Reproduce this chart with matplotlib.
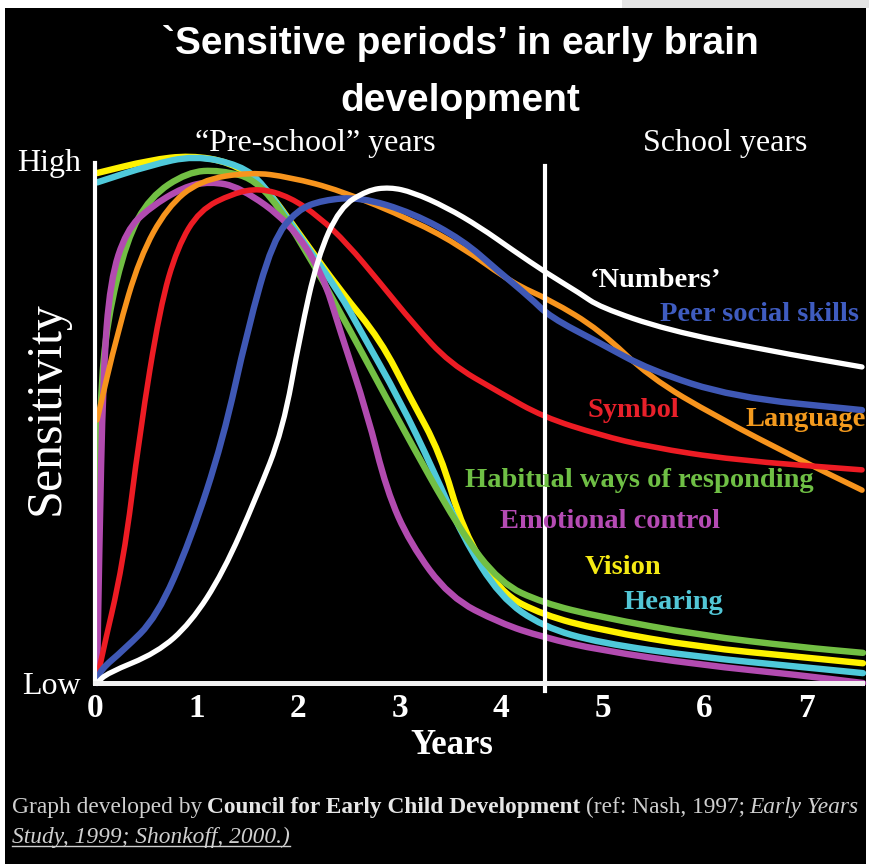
"""
Sensitive periods in early brain development -- recreation.
"""
import matplotlib
matplotlib.use("Agg")
import matplotlib.pyplot as plt
from matplotlib.patches import Rectangle, PathPatch
from matplotlib.path import Path
from matplotlib.lines import Line2D

W, H = 869, 864

# curve data: years, sensitivity (0 = Low, 1 = High)
vision_x = [0.02, 0.54, 0.94, 1.33, 1.65, 2.02, 2.41, 2.81, 3.10, 3.40, 3.62, 3.99, 4.41, 4.97, 5.95, 6.94, 7.56]
vision_y = [0.981, 1.006, 1.015, 1.002, 0.962, 0.862, 0.756, 0.660, 0.550, 0.442, 0.294, 0.173, 0.131, 0.102, 0.069, 0.050, 0.038]

hearing_x = [0.02, 0.54, 0.98, 1.43, 1.65, 2.02, 2.41, 2.61, 3.00, 3.33, 3.62, 3.99, 4.41, 4.97, 5.95, 6.94, 7.56]
hearing_y = [0.963, 0.996, 1.015, 0.996, 0.962, 0.858, 0.750, 0.679, 0.544, 0.410, 0.281, 0.165, 0.108, 0.077, 0.050, 0.031, 0.019]

habit_x = [0.02, 0.05, 0.12, 0.31, 0.54, 0.91, 1.23, 1.62, 2.02, 2.51, 3.00, 3.59, 3.99, 4.41, 4.97, 5.95, 6.94, 7.56]
habit_y = [0.237, 0.544, 0.698, 0.852, 0.935, 0.983, 0.987, 0.967, 0.852, 0.679, 0.500, 0.294, 0.192, 0.154, 0.127, 0.092, 0.069, 0.058]

emotion_x = [0.02, 0.04, 0.08, 0.15, 0.31, 0.54, 0.87, 1.13, 1.43, 1.92, 2.24, 2.41, 2.68, 2.87, 3.10, 3.49, 3.99, 4.41, 4.97, 5.95, 6.94, 7.56]
emotion_y = [0.0, 0.237, 0.596, 0.775, 0.871, 0.915, 0.954, 0.965, 0.954, 0.885, 0.788, 0.679, 0.519, 0.371, 0.269, 0.165, 0.115, 0.088, 0.063, 0.035, 0.015, 0.0]

language_x = [0.02, 0.22, 0.44, 0.71, 1.03, 1.53, 1.92, 2.41, 3.13, 3.62, 4.11, 4.48, 4.97, 5.46, 6.12, 6.94, 7.55]
language_y = [0.506, 0.673, 0.819, 0.915, 0.967, 0.983, 0.973, 0.948, 0.890, 0.838, 0.769, 0.737, 0.679, 0.588, 0.512, 0.429, 0.371]

symbol_x = [0.02, 0.05, 0.28, 0.44, 0.64, 0.81, 1.03, 1.36, 1.62, 1.92, 2.21, 2.48, 2.81, 3.13, 3.49, 3.99, 4.41, 4.97, 5.46, 6.28, 7.55]
symbol_y = [0.0, 0.038, 0.231, 0.481, 0.723, 0.838, 0.910, 0.942, 0.952, 0.935, 0.896, 0.846, 0.769, 0.692, 0.615, 0.558, 0.512, 0.477, 0.454, 0.429, 0.410]

peer_x = [0.02, 0.05, 0.28, 0.61, 0.94, 1.26, 1.50, 1.75, 1.99, 2.24, 2.61, 3.13, 3.62, 3.96, 4.28, 4.48, 4.97, 5.46, 6.28, 7.55]
peer_y = [0.0, 0.025, 0.063, 0.127, 0.275, 0.467, 0.679, 0.852, 0.910, 0.929, 0.935, 0.904, 0.852, 0.794, 0.742, 0.704, 0.654, 0.602, 0.550, 0.525]

numbers_x = [0.02, 0.12, 0.61, 0.94, 1.26, 1.59, 1.85, 2.02, 2.19, 2.41, 2.68, 2.90, 3.13, 3.46, 3.79, 4.11, 4.45, 4.77, 4.97, 5.63, 6.61, 7.55]
numbers_y = [0.0, 0.019, 0.058, 0.115, 0.212, 0.358, 0.487, 0.670, 0.819, 0.915, 0.948, 0.954, 0.944, 0.915, 0.877, 0.833, 0.788, 0.750, 0.723, 0.679, 0.640, 0.608]

school_start = 4.43
year_ticks = [0, 1, 2, 3, 4, 5, 6, 7]

# (x, y, label, colour)  -- label anchors, left edge / vertical centre
labels = [
    (4.87, 0.775, "‘Numbers’", "#ffffff"),
    (5.56, 0.708, "Peer social skills", "#3f5cc0"),
    (4.85, 0.525, "Symbol", "#e8202a"),
    (6.40, 0.506, "Language", "#f39a1e"),
    (3.64, 0.390, "Habitual ways of responding", "#6fbf45"),
    (3.99, 0.310, "Emotional control", "#b54bb4"),
    (4.82, 0.223, "Vision", "#f5ea14"),
    (5.20, 0.154, "Hearing", "#52c6d6"),
]

SERIF = ["Liberation Serif", "DejaVu Serif"]


def smooth_path(xs, ys):
    # read points used as quadratic control points -> rounded hand-drawn look
    pts = list(zip(xs, ys))
    verts = [pts[0]]
    codes = [Path.MOVETO]
    mid = ((pts[0][0] + pts[1][0]) / 2, (pts[0][1] + pts[1][1]) / 2)
    verts.append(mid)
    codes.append(Path.LINETO)
    for i in range(1, len(pts) - 1):
        nxt = ((pts[i][0] + pts[i + 1][0]) / 2, (pts[i][1] + pts[i + 1][1]) / 2)
        verts += [pts[i], nxt]
        codes += [Path.CURVE3, Path.CURVE3]
    verts.append(pts[-1])
    codes.append(Path.LINETO)
    return Path(verts, codes)


fig = plt.figure(figsize=(W / 100, H / 100), dpi=100, facecolor="white")
# black panel with the thin light border of the original slide
fig.patches.append(Rectangle((5 / W, 0), 861 / W, 856 / H, transform=fig.transFigure,
                             facecolor="black", edgecolor="none", zorder=-10))
fig.patches.append(Rectangle((622 / W, 856 / H), 247 / W, 8 / H, transform=fig.transFigure,
                             facecolor="#e4e4e4", edgecolor="none", zorder=-10))

ax = fig.add_axes([95 / W, 181 / H, 767 / W, 551 / H])
ax.set_facecolor("none")
ax.set_xlim(0, 7.55)
ax.set_ylim(0, 1.06)

curves = [
    (vision_x, vision_y, "#fff200", 4.6),
    (hearing_x, hearing_y, "#4fc9da", 4.6),
    (habit_x, habit_y, "#72bf44", 4.6),
    (emotion_x, emotion_y, "#b24bb0", 4.6),
    (language_x, language_y, "#f7941d", 4.0),
    (symbol_x, symbol_y, "#ed1c24", 4.0),
    (peer_x, peer_y, "#3f58b5", 4.6),
    (numbers_x, numbers_y, "#ffffff", 3.8),
]
for xs, ys, c, lw in curves:
    ax.add_patch(PathPatch(smooth_path(xs, ys), facecolor="none", edgecolor=c, lw=lw,
                           capstyle="round", joinstyle="round", clip_on=False))

# school-years divider
ax.plot([school_start, school_start], [-0.015, 0.995], color="white", lw=3, clip_on=False)

for s in ("top", "right"):
    ax.spines[s].set_visible(False)
ax.spines["left"].set_color("white")
ax.spines["left"].set_linewidth(3)
ax.spines["left"].set_bounds(0, 1.0)
ax.spines["bottom"].set_color("#f2f2f2")
ax.spines["bottom"].set_linewidth(3.6)
ax.spines["bottom"].set_bounds(0, 7.55)

ax.set_xticks(year_ticks)
ax.set_xticklabels([str(t) for t in year_ticks], family=SERIF, fontsize=24,
                   fontweight="bold", color="white")
ax.set_yticks([0, 1.006])
ax.set_yticklabels(["Low", "High"], family=SERIF, fontsize=23, color="white")
ax.tick_params(axis="x", length=0, pad=7)
ax.tick_params(axis="y", length=0, pad=10)

for x, y, txt, c in labels:
    ax.text(x, y, txt, color=c, family=SERIF, fontsize=20.5, fontweight="bold",
            ha="left", va="center")

# titles and axis captions
fig.text(460 / W, 1 - 72 / H, "`Sensitive periods’ in early brain\ndevelopment",
         family=["Liberation Sans", "DejaVu Sans"],
         fontsize=28, fontweight="bold", color="white", ha="center", va="center",
         linespacing=1.75)
fig.text(315 / W, 1 - 143 / H, "“Pre-school” years", family=SERIF, fontsize=23,
         color="white", ha="center", va="center")
fig.text(725 / W, 1 - 143 / H, "School years", family=SERIF, fontsize=23,
         color="white", ha="center", va="center")
fig.text(46 / W, 1 - 408 / H, "Sensitivity", family=SERIF, fontsize=36,
         color="white", ha="center", va="center", rotation=90)
fig.text(452 / W, 1 - 745 / H, "Years", family=SERIF, fontsize=25, fontweight="bold",
         color="white", ha="center", va="center")

# source caption, assembled piece by piece
renderer = fig.canvas.get_renderer()
cap_size = 16.8
gap = 5


def put_line(pieces, x0, y, underline=False):
    x = x0
    for txt, weight, style, col in pieces:
        t = fig.text(x / W, 1 - y / H, txt, family=SERIF, fontsize=cap_size,
                     fontweight=weight, fontstyle=style, color=col,
                     ha="left", va="baseline")
        bb = t.get_window_extent(renderer)
        x = bb.x1 + gap
    if underline:
        fig.add_artist(Line2D([x0 / W, (x - gap) / W], [1 - (y + 3) / H, 1 - (y + 3) / H],
                              transform=fig.transFigure, color="#cfcfcf", lw=1))


put_line([("Graph developed by", "normal", "normal", "#cfcfcf"),
          ("Council for Early Child Development", "bold", "normal", "#e6e6e6"),
          ("(ref: Nash, 1997;", "normal", "normal", "#cfcfcf"),
          ("Early Years", "normal", "italic", "#cfcfcf")], 12, 813)
put_line([("Study, 1999; Shonkoff, 2000.)", "normal", "italic", "#cfcfcf")], 12, 843,
         underline=True)

fig.savefig("out.png", dpi=100, facecolor=fig.get_facecolor())
